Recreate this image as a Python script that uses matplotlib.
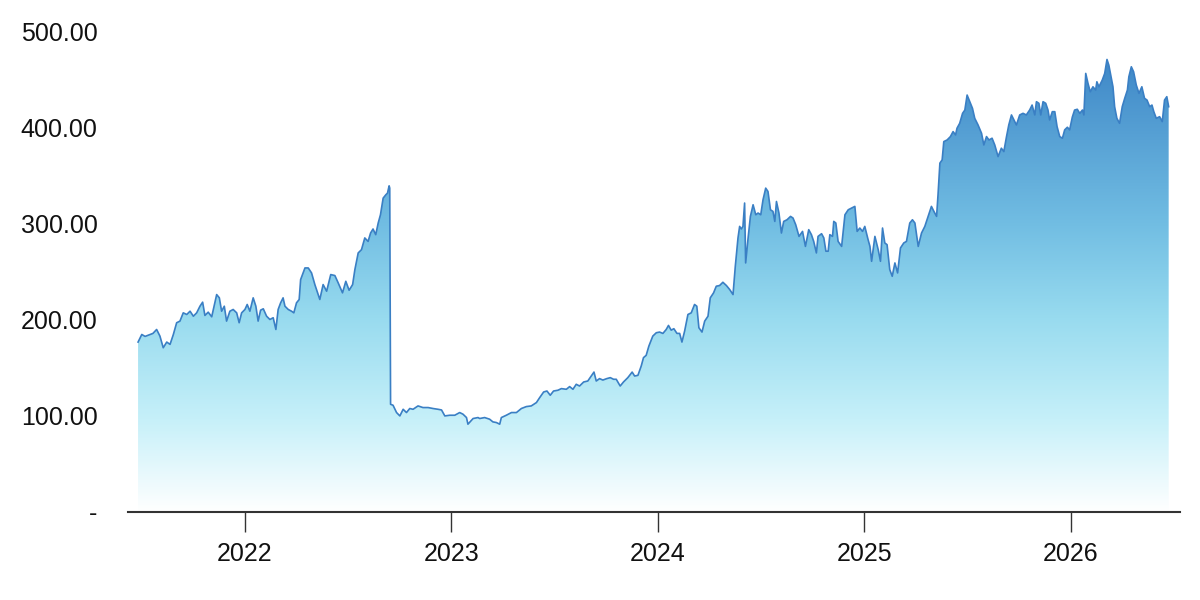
import matplotlib
matplotlib.use("Agg")
import matplotlib.pyplot as plt
import matplotlib.dates as mdates
from matplotlib.colors import LinearSegmentedColormap
from matplotlib.ticker import FuncFormatter
from matplotlib.patches import Polygon
import numpy as np
from datetime import datetime, timedelta

# time in decimal years
t_years = [
    2021.482, 2021.500, 2021.516, 2021.540, 2021.554, 2021.572, 2021.588, 2021.604, 2021.621, 2021.637,
    2021.653, 2021.669, 2021.685, 2021.701, 2021.718, 2021.734, 2021.750, 2021.766, 2021.782, 2021.795,
    2021.806, 2021.822, 2021.839, 2021.847, 2021.863, 2021.876, 2021.887, 2021.900, 2021.911, 2021.927,
    2021.943, 2021.960, 2021.972, 2021.984, 2022.000, 2022.011, 2022.024, 2022.040, 2022.053, 2022.064,
    2022.076, 2022.089, 2022.105, 2022.121, 2022.137, 2022.150, 2022.161, 2022.173, 2022.185, 2022.194,
    2022.210, 2022.226, 2022.237, 2022.250, 2022.263, 2022.270, 2022.291, 2022.307, 2022.323, 2022.339,
    2022.363, 2022.379, 2022.396, 2022.416, 2022.436, 2022.452, 2022.473, 2022.489, 2022.505, 2022.522,
    2022.533, 2022.549, 2022.565, 2022.581, 2022.597, 2022.609, 2022.621, 2022.634, 2022.646, 2022.657,
    2022.670, 2022.683, 2022.691, 2022.699, 2022.702, 2022.706, 2022.718, 2022.735, 2022.751, 2022.767,
    2022.783, 2022.799, 2022.815, 2022.839, 2022.863, 2022.888, 2022.912, 2022.936, 2022.953, 2022.969,
    2022.993, 2023.017, 2023.041, 2023.057, 2023.074, 2023.081, 2023.106, 2023.130, 2023.138, 2023.162,
    2023.186, 2023.202, 2023.219, 2023.235, 2023.243, 2023.267, 2023.292, 2023.316, 2023.340, 2023.364,
    2023.388, 2023.413, 2023.429, 2023.448, 2023.464, 2023.480, 2023.496, 2023.517, 2023.534, 2023.558,
    2023.574, 2023.590, 2023.606, 2023.622, 2023.642, 2023.662, 2023.679, 2023.692, 2023.703, 2023.719,
    2023.735, 2023.754, 2023.771, 2023.787, 2023.800, 2023.819, 2023.835, 2023.856, 2023.877, 2023.889,
    2023.905, 2023.921, 2023.932, 2023.945, 2023.958, 2023.977, 2023.994, 2024.010, 2024.026, 2024.042,
    2024.053, 2024.066, 2024.079, 2024.094, 2024.107, 2024.118, 2024.131, 2024.147, 2024.163, 2024.179,
    2024.190, 2024.200, 2024.215, 2024.228, 2024.244, 2024.255, 2024.271, 2024.284, 2024.300, 2024.316,
    2024.333, 2024.349, 2024.365, 2024.376, 2024.389, 2024.397, 2024.405, 2024.413, 2024.421, 2024.426,
    2024.437, 2024.449, 2024.462, 2024.475, 2024.486, 2024.499, 2024.510, 2024.523, 2024.534, 2024.546,
    2024.558, 2024.567, 2024.575, 2024.587, 2024.599, 2024.610, 2024.626, 2024.643, 2024.655, 2024.668,
    2024.684, 2024.701, 2024.715, 2024.731, 2024.744, 2024.755, 2024.768, 2024.776, 2024.793, 2024.804,
    2024.814, 2024.825, 2024.833, 2024.846, 2024.852, 2024.862, 2024.873, 2024.890, 2024.906, 2024.922,
    2024.938, 2024.954, 2024.965, 2024.978, 2024.991, 2025.002, 2025.018, 2025.027, 2025.035, 2025.051,
    2025.067, 2025.078, 2025.088, 2025.099, 2025.110, 2025.123, 2025.135, 2025.148, 2025.161, 2025.175,
    2025.191, 2025.204, 2025.220, 2025.233, 2025.245, 2025.261, 2025.277, 2025.293, 2025.309, 2025.325,
    2025.337, 2025.350, 2025.357, 2025.366, 2025.377, 2025.385, 2025.401, 2025.417, 2025.430, 2025.442,
    2025.449, 2025.462, 2025.476, 2025.487, 2025.498, 2025.511, 2025.524, 2025.535, 2025.551, 2025.568,
    2025.579, 2025.592, 2025.604, 2025.619, 2025.632, 2025.648, 2025.664, 2025.676, 2025.689, 2025.700,
    2025.713, 2025.729, 2025.737, 2025.753, 2025.769, 2025.785, 2025.801, 2025.813, 2025.826, 2025.834,
    2025.846, 2025.855, 2025.866, 2025.879, 2025.890, 2025.898, 2025.911, 2025.923, 2025.934, 2025.947,
    2025.960, 2025.971, 2025.984, 2025.995, 2026.008, 2026.019, 2026.032, 2026.044, 2026.057, 2026.064,
    2026.073, 2026.084, 2026.095, 2026.108, 2026.121, 2026.127, 2026.137, 2026.153, 2026.165, 2026.176,
    2026.185, 2026.194, 2026.205, 2026.213, 2026.224, 2026.237, 2026.250, 2026.262, 2026.275, 2026.282,
    2026.294, 2026.305, 2026.318, 2026.331, 2026.345, 2026.358, 2026.370, 2026.383, 2026.394, 2026.403,
    2026.415, 2026.431, 2026.444, 2026.455, 2026.466, 2026.475,
]

values = [
    176.7, 184.6, 182.6, 184.6, 185.7, 189.8, 182.9, 170.8, 176.7, 174.3,
    184.6, 196.8, 198.5, 207.1, 205.4, 208.8, 203.6, 207.1, 214.0, 218.2,
    204.4, 207.8, 203.0, 210.6, 226.1, 222.7, 208.8, 214.0, 198.5, 208.8,
    210.6, 207.1, 196.8, 207.1, 210.6, 215.8, 208.8, 222.7, 214.0, 198.5,
    209.9, 211.3, 203.6, 200.2, 202.0, 189.8, 210.6, 217.5, 222.7, 214.0,
    210.6, 208.8, 207.1, 217.5, 221.0, 241.7, 253.8, 253.8, 248.6, 236.5,
    221.0, 236.5, 229.6, 246.9, 245.9, 238.3, 227.9, 239.9, 230.6, 236.5,
    252.1, 269.4, 272.8, 285.0, 281.4, 290.1, 294.3, 288.4, 300.5, 309.1,
    326.4, 329.9, 331.6, 339.2, 336.8, 112.0, 111.0, 103.4, 99.9, 106.8,
    103.4, 107.6, 106.8, 110.3, 108.6, 108.6, 107.6, 106.8, 106.1, 99.9,
    100.6, 100.6, 103.4, 101.7, 98.2, 91.3, 97.2, 98.2, 97.2, 98.2,
    96.5, 93.7, 93.0, 91.3, 98.2, 100.6, 103.4, 103.4, 107.6, 109.6,
    110.3, 113.8, 119.0, 124.8, 125.8, 121.4, 125.8, 126.6, 128.3, 127.6,
    130.4, 127.6, 132.8, 131.0, 135.2, 136.2, 141.4, 145.5, 136.2, 138.7,
    137.2, 138.7, 139.7, 138.0, 138.0, 131.0, 135.2, 139.7, 145.5, 141.4,
    142.1, 151.8, 160.5, 162.9, 172.5, 182.9, 186.4, 187.1, 185.7, 189.8,
    194.0, 189.1, 190.6, 185.7, 185.7, 176.7, 188.1, 205.4, 207.1, 215.8,
    214.0, 191.6, 187.1, 198.5, 203.6, 222.7, 227.9, 234.8, 235.5, 238.9,
    235.5, 231.3, 226.1, 255.5, 285.0, 297.0, 294.3, 297.0, 321.3, 259.0,
    283.2, 307.4, 319.5, 309.1, 310.9, 309.1, 324.7, 336.8, 333.3, 314.3,
    312.6, 302.2, 322.9, 310.9, 290.1, 302.2, 303.9, 307.4, 305.7, 298.8,
    286.6, 291.8, 276.2, 293.6, 288.4, 281.4, 269.4, 286.6, 289.4, 285.0,
    271.2, 271.2, 288.4, 286.6, 302.2, 300.5, 281.4, 276.2, 309.1, 314.3,
    316.1, 317.8, 291.8, 295.3, 291.8, 297.0, 283.2, 276.2, 260.7, 286.6,
    272.8, 260.7, 295.3, 279.8, 278.0, 252.1, 245.1, 259.0, 248.6, 274.6,
    279.8, 281.4, 300.5, 303.9, 300.5, 276.2, 290.1, 297.0, 307.4, 317.8,
    312.6, 307.4, 329.9, 362.8, 366.2, 385.2, 386.9, 390.4, 395.6, 392.1,
    399.1, 404.2, 414.6, 418.0, 433.6, 426.7, 419.8, 409.4, 402.5, 393.8,
    381.7, 390.4, 386.9, 388.7, 381.7, 369.6, 378.3, 374.8, 390.4, 402.5,
    412.9, 406.0, 402.5, 412.9, 414.6, 412.9, 418.0, 423.2, 412.9, 426.7,
    425.0, 412.9, 426.7, 425.0, 418.0, 407.7, 416.3, 416.3, 400.8, 390.4,
    388.7, 397.4, 400.1, 397.4, 410.7, 418.0, 418.8, 414.6, 418.0, 412.9,
    456.1, 445.7, 437.0, 442.2, 438.8, 447.4, 442.2, 449.1, 456.1, 470.6,
    464.7, 454.4, 442.2, 421.5, 409.4, 404.2, 421.5, 430.2, 438.8, 452.6,
    463.0, 457.8, 444.0, 435.4, 442.2, 430.2, 428.4, 421.5, 423.2, 416.3,
    409.4, 411.1, 406.0, 428.4, 431.9, 421.5,
]

year_ticks = [2022, 2023, 2024, 2025, 2026]
y_ticks = [0, 100, 200, 300, 400, 500]


def to_date(y):
    yi = int(y)
    start = datetime(yi, 1, 1)
    days = (datetime(yi + 1, 1, 1) - start).days
    return start + timedelta(days=(y - yi) * days)


dates = [to_date(y) for y in t_years]
xnum = mdates.date2num(dates)
vals = np.array(values)

plt.rcParams['font.family'] = ['Liberation Sans', 'DejaVu Sans']

fig = plt.figure(figsize=(12, 6), dpi=100)
ax = fig.add_axes([0.1067, 0.1467, 0.8763, 0.8013])

cmap = LinearSegmentedColormap.from_list(
    "grad",
    [(0.0, "#ffffff"), (0.2, "#c6f0f9"), (0.42, "#98dbef"), (0.62, "#72bee3"),
     (0.82, "#56a0d4"), (1.0, "#3c85c6")])

verts = np.column_stack([np.concatenate([[xnum[0]], xnum, [xnum[-1]]]),
                         np.concatenate([[0], vals, [0]])])
clip = Polygon(verts, closed=True, facecolor="none", edgecolor="none")
ax.add_patch(clip)

ymax_grad = 480
grad = np.linspace(0, 1, 256).reshape(-1, 1)
im = ax.imshow(grad, extent=[xnum.min(), xnum.max(), 0, ymax_grad], origin="lower",
               aspect="auto", cmap=cmap, zorder=1)
im.set_clip_path(clip)
ax.plot(xnum, vals, color="#3a7fc4", linewidth=1.2, zorder=3)

x0 = mdates.date2num(to_date(2021.4334))
x1 = mdates.date2num(to_date(2026.528))
ax.set_xlim(x0, x1)
ax.set_ylim(0, 500)

ax.set_xticks(mdates.date2num([datetime(y, 1, 1) for y in year_ticks]))
ax.set_xticklabels([str(y) for y in year_ticks])
ax.set_yticks(y_ticks)
ax.yaxis.set_major_formatter(FuncFormatter(lambda v, p: "-" if v == 0 else f"{v:.2f}"))

for s in ["top", "right", "left"]:
    ax.spines[s].set_visible(False)
ax.spines["bottom"].set_color("#333333")
ax.spines["bottom"].set_linewidth(1.5)

ax.tick_params(axis="y", length=0, pad=22, labelsize=18, labelcolor="#111111")
ax.tick_params(axis="x", length=14.5, width=1.0, color="#333333", pad=7, labelsize=18,
               labelcolor="#111111")

fig.savefig("out.png", dpi=100, facecolor="white")
